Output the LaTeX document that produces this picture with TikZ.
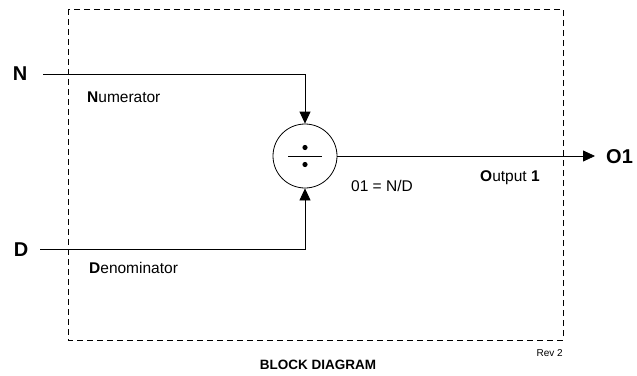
\documentclass[tikz,border=0pt]{standalone}
\usepackage{fontspec}
\setmainfont{Liberation Sans}
\usetikzlibrary{arrows.meta}
\begin{document}
\begin{tikzpicture}[x=1pt,y=-1pt,
  wire/.style={line width=0.8pt},
  arr/.style={wire,-{Triangle[length=12pt,width=11pt]}},
  io/.style={font=\fontsize{20}{20}\selectfont\bfseries,inner sep=0pt},
  lbl/.style={font=\fontsize{15.5}{15.5}\selectfont,inner sep=0pt,anchor=west},
  frame/.style={line width=0.8pt,dash pattern=on 6pt off 4pt}]
\useasboundingbox (0,0) rectangle (637,375);
\draw[frame] (68,9) rectangle (563,340);
\node[circle,draw,line width=0.8pt,minimum size=64pt,inner sep=0pt] (div) at (305,156) {};
\draw[line width=0.8pt] (288,156) -- (322,156);
\fill (305,147.5) circle (2.6pt);
\fill (305,164.5) circle (2.6pt);
\node[io] (N) at (20,74) {N};
\node[io] (D) at (21,250) {D};
\node[io,anchor=west] (O) at (606,157) {O1};
\coordinate (nstart) at (43,74);
\coordinate (dstart) at (40,249);
\coordinate (nbend) at (305,74);
\coordinate (dbend) at (305,249);
\coordinate (oend) at (595,156);
\draw[arr] (nstart) -- (nbend) -- (div.north);
\draw[arr] (dstart) -- (dbend) -- (div.south);
\draw[arr] (div.east) -- (oend);
\node[lbl] (num) at (87,97) {\textbf{N}umerator};
\node[lbl] (den) at (89,268) {\textbf{D}enominator};
\node[lbl] (eq) at (351,186) {01 = N/D};
\node[lbl] (out) at (480,178) {\textbf{O}utput \textbf{1}};
\node[font=\fontsize{13.5}{13.5}\selectfont\bfseries,inner sep=0pt] (title) at (318,365) {BLOCK DIAGRAM};
\node[font=\fontsize{10}{10}\selectfont,inner sep=0pt,anchor=east] (rev) at (563,353) {Rev 2};
\end{tikzpicture}
\end{document}
